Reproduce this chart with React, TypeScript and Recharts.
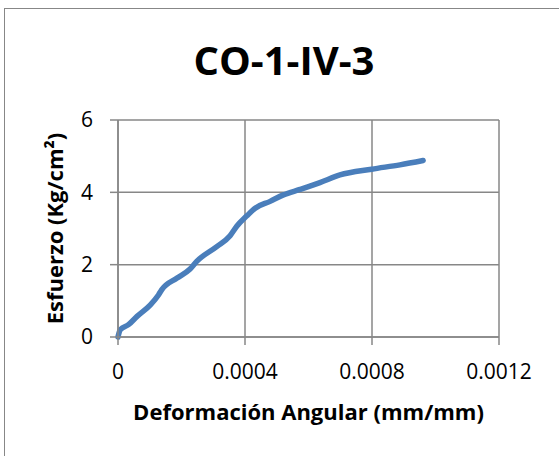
import { LineChart, Line, XAxis, YAxis, CartesianGrid } from 'recharts';

// deformación angular (mm/mm) vs esfuerzo (kg/cm2)
const strain = [
  0, 0.000007, 0.000033, 0.00006, 0.000102, 0.000128, 0.000138, 0.000186, 0.000227, 0.000248,
  0.000311, 0.000353, 0.000374, 0.000406, 0.000432, 0.000479, 0.000521, 0.000573, 0.000636,
  0.000699, 0.000799, 0.000888, 0.000961,
];
const stress = [
  0, 0.2, 0.34, 0.57, 0.89, 1.17, 1.31, 1.63, 1.88, 2.09,
  2.5, 2.8, 3.06, 3.35, 3.56, 3.75, 3.93, 4.08, 4.27,
  4.48, 4.64, 4.76, 4.88,
];
const xTicks = [0, 0.0004, 0.0008, 0.0012];
const yTicks = [0, 2, 4, 6];

const title = 'CO-1-IV-3';
const xTitle = 'Deformación Angular (mm/mm)';
const yTitle = 'Esfuerzo (Kg/cm²)';

const data = strain.map((x, i) => ({ x, y: stress[i] }));

const FONT = '"Open Sans", sans-serif';
const GRID = '#878787';
const tickStyle = { fill: '#000', fontSize: 21, fontFamily: FONT };
const axisTitleStyle = { fill: '#000', fontSize: 22, fontWeight: 700, fontFamily: FONT };

export default function App() {
  return (
    <div style={{ position: 'fixed', left: 0, top: 0, width: 559, height: 456, overflow: 'hidden', background: '#fff' }}>
      <div style={{ position: 'absolute', left: 4, top: 8, width: 700, height: 700, border: `1.5px solid ${GRID}` }} />
      <svg width={559} height={110} style={{ position: 'absolute', left: 0, top: 0 }}>
        <text x={284} y={75} textAnchor="middle" fontFamily={FONT} fontWeight={700} fontSize={40} fill="#000">
          {title}
        </text>
      </svg>
      <div style={{ position: 'absolute', left: 0, top: 0 }}>
        <LineChart width={559} height={456} data={data} margin={{ top: 120, right: 60, left: 0, bottom: 0 }}>
          <CartesianGrid stroke={GRID} strokeWidth={1.5} />
          <XAxis
            dataKey="x"
            type="number"
            domain={[0, 0.0012]}
            ticks={xTicks}
            tickFormatter={(v: number) => String(v)}
            height={119}
            tickSize={8}
            tickMargin={19}
            stroke={GRID}
            strokeWidth={1.5}
            tick={tickStyle}
            label={{ value: xTitle, position: 'insideBottom', offset: 36, style: axisTitleStyle }}
          />
          <YAxis
            type="number"
            domain={[0, 6]}
            ticks={yTicks}
            width={118}
            tickSize={8}
            tickMargin={17}
            stroke={GRID}
            strokeWidth={1.5}
            tick={tickStyle}
            label={{ value: yTitle, angle: -90, position: 'insideLeft', offset: 55, textAnchor: 'middle', style: axisTitleStyle }}
          />
          <Line
            dataKey="y"
            type="monotone"
            stroke="#4A7EBB"
            strokeWidth={5.5}
            strokeLinecap="round"
            dot={false}
            isAnimationActive={false}
          />
        </LineChart>
      </div>
    </div>
  );
}
